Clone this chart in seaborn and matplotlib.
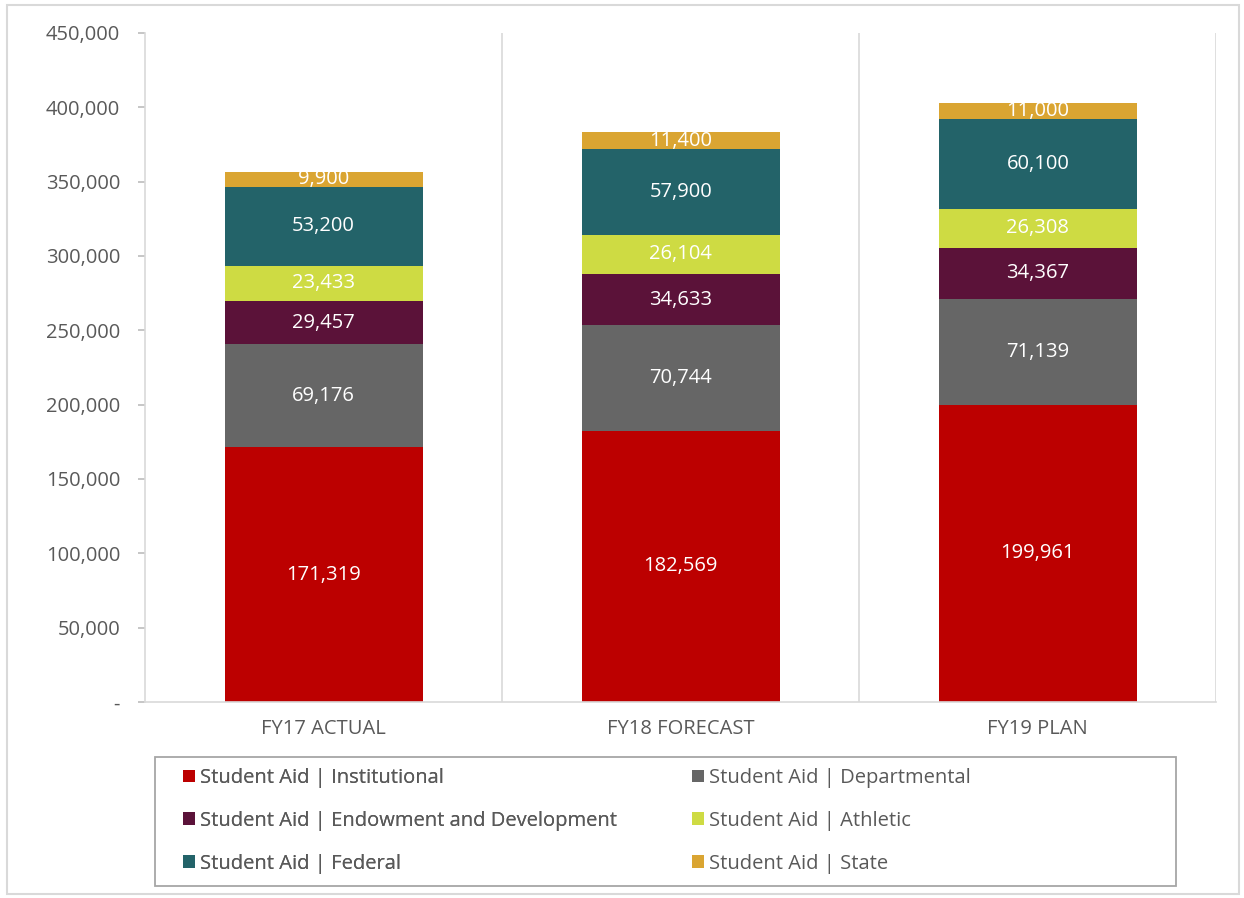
import seaborn as sns
import matplotlib.pyplot as plt
import pandas as pd
from matplotlib.patches import Rectangle, Patch

# data
years = ["FY17 ACTUAL", "FY18 FORECAST", "FY19 PLAN"]
series = ["Student Aid | Institutional", "Student Aid | Departmental",
          "Student Aid | Endowment and Development", "Student Aid | Athletic",
          "Student Aid | Federal", "Student Aid | State"]
institutional = [171319, 182569, 199961]
departmental = [69176, 70744, 71139]
endowment = [29457, 34633, 34367]
athletic = [23433, 26104, 26308]
federal = [53200, 57900, 60100]
state = [9900, 11400, 11000]
colors = ["#BC0000", "#666666", "#5B1239", "#CEDB43", "#236369", "#DAA532"]
yticks = [0, 50000, 100000, 150000, 200000, 250000, 300000, 350000, 400000, 450000]

values = [institutional, departmental, endowment, athletic, federal, state]
df = pd.DataFrame({"year": years})
for name, vals in zip(series, values):
    df[name] = vals

sns.set_theme(style="white")
plt.rcParams["font.family"] = ["Open Sans", "DejaVu Sans"]
grey_txt = "#595959"
fs = 14.5

fig = plt.figure(figsize=(12.44, 8.98), dpi=100)
ax = fig.add_axes([0.1166, 0.2183, 0.8612, 0.745])

bottom = [0, 0, 0]
for name, col in zip(series, colors):
    sns.barplot(data=df, x="year", y=name, color=col, bottom=bottom,
                width=0.555, ax=ax, saturation=1, linewidth=0)
    for i, v in enumerate(df[name]):
        ax.text(i, bottom[i] + v / 2, f"{v:,}", ha="center", va="center",
                color="white", fontsize=fs)
    bottom = [b + v for b, v in zip(bottom, df[name])]

ax.set_xlim(-0.5, 2.5)
ax.set_ylim(0, 450000)
ax.set_yticks(yticks)
ax.set_yticklabels(["-"] + [f"{t:,}" for t in yticks[1:]], color=grey_txt, fontsize=fs)
ax.set_xticks(range(3))
ax.set_xticklabels(years, color=grey_txt, fontsize=fs)
ax.set_xlabel("")
ax.set_ylabel("")
ax.tick_params(axis="y", left=True, length=5, color="#BFBFBF", pad=13)
ax.tick_params(axis="x", bottom=False, pad=6)
for x in [0.5, 1.5, 2.5]:
    ax.axvline(x, color="#D9D9D9", lw=1.2)
for s in ["top", "right"]:
    ax.spines[s].set_visible(False)
for s in ["left", "bottom"]:
    ax.spines[s].set_color("#D9D9D9")
    ax.spines[s].set_linewidth(1.2)

# legend: filled row by row, two columns placed by hand, one shared frame
handles = [Patch(facecolor=c, edgecolor="none") for c in colors]
W, H = 1244, 898
leg_kw = dict(frameon=False, fontsize=fs, labelcolor=grey_txt, handlelength=0.6,
              handleheight=0.6, handletextpad=0.25, labelspacing=1.13,
              borderpad=0, borderaxespad=0, loc="upper left")
leg1 = fig.legend(handles[0::2], series[0::2], bbox_to_anchor=(183 / W, 1 - 768 / H), **leg_kw)
fig.legend(handles[1::2], series[1::2], bbox_to_anchor=(692 / W, 1 - 768 / H), **leg_kw)
fig.add_artist(leg1)
fig.patches.append(Rectangle((155 / W, 1 - 886 / H), 1021 / W, 129 / H, transform=fig.transFigure,
                             fill=False, edgecolor="#A6A6A6", lw=1.3))

# light frame round the whole picture
fig.patches.append(Rectangle((0.006, 0.004), 0.99, 0.99, transform=fig.transFigure,
                             fill=False, edgecolor="#D9D9D9", lw=1.5))

fig.savefig("out.png", dpi=100)
